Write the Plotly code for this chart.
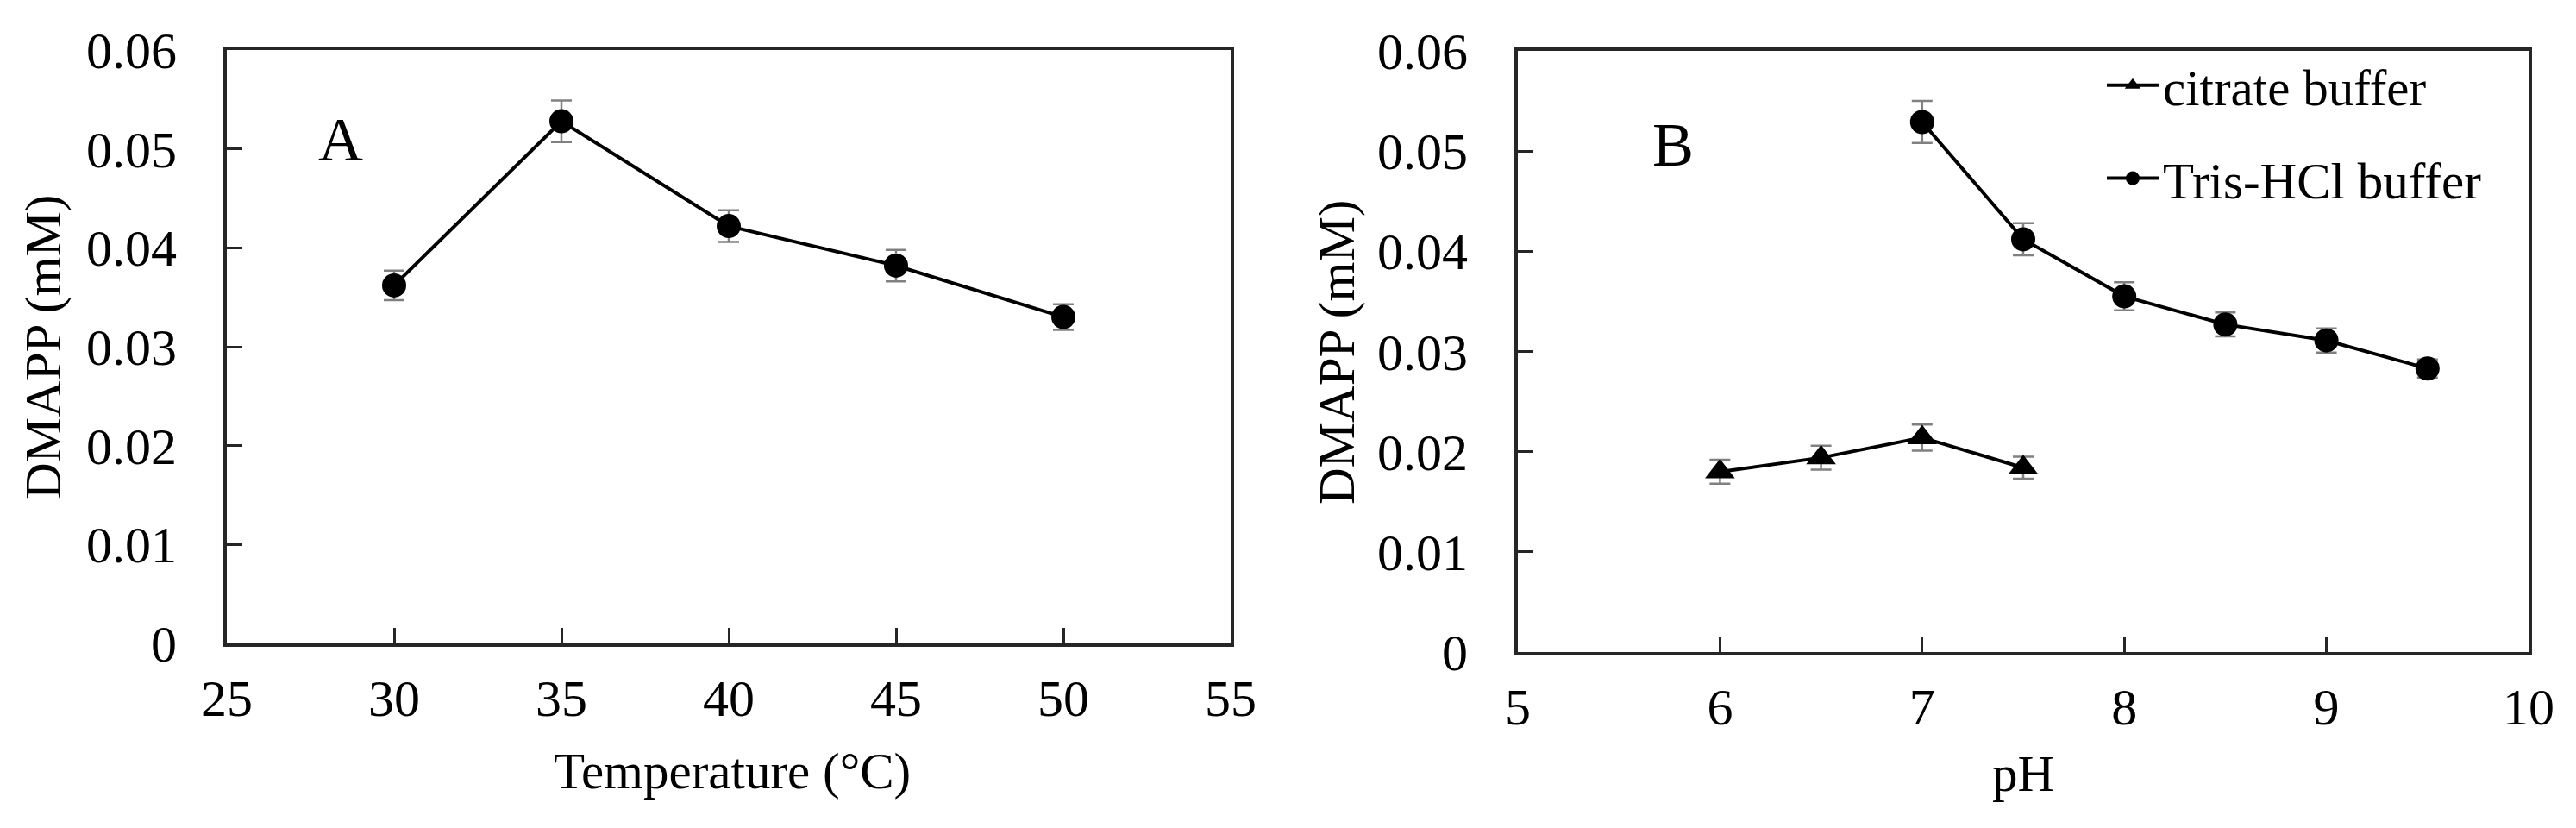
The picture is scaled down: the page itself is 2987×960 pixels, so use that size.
import plotly.graph_objects as go

# ---------------- data ----------------
temp_x = [30, 35, 40, 45, 50]
temp_y = [0.0362, 0.0528, 0.0422, 0.0382, 0.0330]
temp_err = [0.0015, 0.0021, 0.0016, 0.0016, 0.0013]

citrate_ph = [6, 6.5, 7, 7.5]
citrate_y = [0.0180, 0.0194, 0.0214, 0.0184]
citrate_err = [0.0012, 0.0012, 0.0013, 0.0011]

tris_ph = [7, 7.5, 8, 8.5, 9, 9.5]
tris_y = [0.0529, 0.0412, 0.0355, 0.0327, 0.0311, 0.0283]
tris_err = [0.0021, 0.0016, 0.0014, 0.0012, 0.0012, 0.0009]

y_ticks = [0, 0.01, 0.02, 0.03, 0.04, 0.05, 0.06]
y_ticktext = ["0", "0.01", "0.02", "0.03", "0.04", "0.05", "0.06"]
temp_ticks = [25, 30, 35, 40, 45, 50, 55]
ph_ticks = [5, 6, 7, 8, 9, 10]

FONT = "Liberation Serif"
W, H = 2987, 960
AX_COLOR = "#262626"
ERR_COLOR = "#808080"
TICK_SIZE = 60
TITLE_SIZE = 59

fig = go.Figure()

fig.add_trace(go.Scatter(
    x=temp_x, y=temp_y, mode="lines+markers", xaxis="x", yaxis="y",
    line=dict(color="black", width=4),
    marker=dict(symbol="circle", size=28, color="black"),
    error_y=dict(type="data", array=temp_err, color=ERR_COLOR, thickness=2.5, width=12),
    showlegend=False,
))

fig.add_trace(go.Scatter(
    x=citrate_ph, y=citrate_y, mode="lines+markers", xaxis="x2", yaxis="y2",
    name="citrate buffer", legendgroup="c",
    line=dict(color="black", width=4),
    marker=dict(symbol="triangle-up", size=30, color="black"),
    error_y=dict(type="data", array=citrate_err, color=ERR_COLOR, thickness=2.5, width=12),
))

fig.add_trace(go.Scatter(
    x=tris_ph, y=tris_y, mode="lines+markers", xaxis="x2", yaxis="y2",
    name="Tris-HCl buffer", legendgroup="t",
    line=dict(color="black", width=4),
    marker=dict(symbol="circle", size=28, color="black"),
    error_y=dict(type="data", array=tris_err, color=ERR_COLOR, thickness=2.5, width=12),
))

def px_x(v):
    return v / W

def px_y(v):
    return 1 - v / H

axis_common = dict(
    showline=True, linewidth=4, linecolor=AX_COLOR, mirror=True,
    showgrid=False, zeroline=False, automargin=False,
    ticks="inside", ticklen=18, tickwidth=3, tickcolor=AX_COLOR,
    tickfont=dict(family=FONT, size=TICK_SIZE, color="black"),
)

fig.update_layout(
    template="none",
    width=W, height=H,
    margin=dict(l=0, r=0, t=0, b=0, pad=0, autoexpand=False),
    paper_bgcolor="white", plot_bgcolor="white",
    font=dict(family=FONT, color="black"),
    xaxis=dict(axis_common, domain=[px_x(255), px_x(1419)], range=[25, 55],
               tickvals=temp_ticks, anchor="y", ticklabelstandoff=8),
    yaxis=dict(axis_common, domain=[px_y(738), px_y(50)], range=[0, 0.06],
               tickvals=y_ticks, ticktext=y_ticktext, anchor="x", ticklabelstandoff=42),
    xaxis2=dict(axis_common, domain=[px_x(1752), px_x(2924)], range=[5, 10],
                tickvals=ph_ticks, anchor="y2", ticklabelstandoff=8),
    yaxis2=dict(axis_common, domain=[px_y(748), px_y(51)], range=[0, 0.06],
                tickvals=y_ticks, ticktext=y_ticktext, anchor="x2", ticklabelstandoff=42),
    legend=dict(
        x=px_x(2430), y=px_y(46), xanchor="left", yanchor="top",
        font=dict(family=FONT, size=TITLE_SIZE, color="black"),
        bgcolor="rgba(0,0,0,0)", borderwidth=0, itemwidth=60,
        traceorder="grouped", tracegroupgap=28,
    ),
    annotations=[
        dict(text="DMAPP (mM)", x=px_x(42), y=px_y(394), xref="paper", yref="paper",
             textangle=-90, showarrow=False, xanchor="center", yanchor="middle",
             font=dict(family=FONT, size=TITLE_SIZE, color="black")),
        dict(text="DMAPP (mM)", x=px_x(1542), y=px_y(400), xref="paper", yref="paper",
             textangle=-90, showarrow=False, xanchor="center", yanchor="middle",
             font=dict(family=FONT, size=TITLE_SIZE, color="black")),
        dict(text="Temperature (°C)", x=px_x(841), y=px_y(886), xref="paper", yref="paper",
             showarrow=False, xanchor="center", yanchor="middle",
             font=dict(family=FONT, size=TITLE_SIZE, color="black")),
        dict(text="pH", x=px_x(2338), y=px_y(889), xref="paper", yref="paper",
             showarrow=False, xanchor="center", yanchor="middle",
             font=dict(family=FONT, size=TITLE_SIZE, color="black")),
        dict(text="A", x=px_x(387), y=px_y(154), xref="paper", yref="paper",
             showarrow=False, xanchor="center", yanchor="middle",
             font=dict(family=FONT, size=72, color="black")),
        dict(text="B", x=px_x(1932), y=px_y(160), xref="paper", yref="paper",
             showarrow=False, xanchor="center", yanchor="middle",
             font=dict(family=FONT, size=72, color="black")),
    ],
)

fig.write_html("out.html")
